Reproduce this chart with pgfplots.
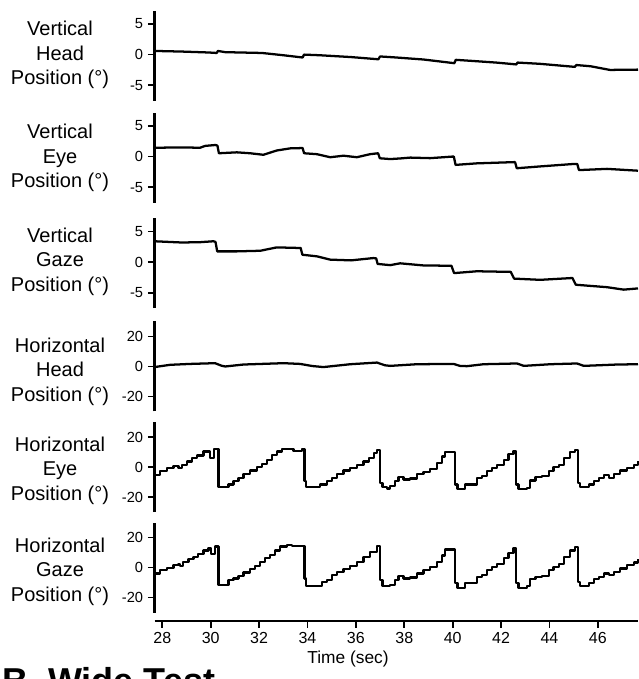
\documentclass[border=0pt]{standalone}
\usepackage{pgfplots}
\pgfplotsset{compat=1.18}
\usepackage{fontspec}
\setmainfont{Liberation Sans}

% one panel: only the left axis line, no x axis
\pgfplotsset{
  panel/.style={
    scale only axis, width=362.6pt, height=67.5pt,
    xmin=27.68, xmax=47.66,
    axis x line=none, axis y line=left,
    axis line style={-, line width=1.8pt},
    xtick=\empty,
    tick align=outside, major tick length=5pt,
    tick style={line width=1.3pt, black},
    yticklabel style={font=\fontsize{11}{13}\selectfont},
    clip=false,
  },
  vpanel/.style={panel, ymin=-7.5, ymax=7.2, ytick={-5,0,5}, yticklabels={-5,0,5}},
  hpanel/.style={panel, ymin=-30, ymax=30, ytick={-20,0,20}, yticklabels={-20,0,20}},
  trace/.style={black, line width=1.7pt, line join=round},
}
\newcommand{\lbl}{\fontsize{15}{18.4}\selectfont}

\begin{document}
\begin{tikzpicture}
\useasboundingbox (0,0) rectangle (479.25pt,-509.25pt);

% Vertical Head
\begin{axis}[vpanel, at={(115.9pt,-7.9pt)}, anchor=north west]
\addplot[trace] coordinates {
(27.68,0.6) (28.8,0.5) (29.9,0.35) (30.25,0.27) (30.3,0.6) (30.6,0.4) (32.12,0.27)
(33.0,-0.1) (33.8,-0.47) (33.86,0.0) (34.5,-0.1) (35.8,-0.4) (36.93,-0.76) (37.0,-0.3)
(37.6,-0.45) (38.8,-0.8) (40.07,-1.4) (40.13,-0.85) (40.7,-1.0) (41.8,-1.3) (42.63,-1.6)
(42.68,-1.3) (43.6,-1.5) (45.05,-2.0) (45.11,-1.7) (45.7,-1.9) (46.5,-2.5) (47.66,-2.45)
};
\end{axis}

% Vertical Eye
\begin{axis}[vpanel, at={(115.9pt,-84.4pt)}, anchor=north west]
\addplot[trace] coordinates {
(27.68,1.45) (28.8,1.5) (29.56,1.45) (29.77,1.75) (30.2,1.9) (30.28,1.8) (30.34,0.55)
(31.08,0.7) (31.63,0.55) (32.18,0.3) (32.73,1.0) (33.29,1.35) (33.80,1.4) (33.86,0.55)
(34.39,0.4) (34.94,-0.1) (35.49,0.15) (36.04,-0.1) (36.59,0.4) (36.92,0.55) (36.99,-0.27)
(37.42,-0.4) (37.83,-0.3) (38.25,-0.16) (39.07,-0.25) (39.97,0.0) (40.05,0.0) (40.12,-1.35)
(41.0,-1.1) (42.52,-0.9) (42.58,-0.9) (42.65,-1.9) (43.62,-1.6) (45.0,-1.2) (45.15,-1.2)
(45.22,-2.2) (46.38,-2.0) (47.66,-2.3)
};
\end{axis}

% Vertical Gaze
\begin{axis}[vpanel, at={(115.9pt,-163.5pt)}, anchor=north west]
\addplot[trace] coordinates {
(27.68,3.4) (28.8,3.2) (29.56,3.25) (30.11,3.4) (30.2,3.3) (30.27,1.75) (31.08,1.75)
(32.05,1.85) (32.73,2.4) (33.72,2.3) (33.79,1.2) (34.39,0.94) (34.94,0.4) (35.8,0.28)
(36.73,0.66) (36.84,0.6) (36.9,-0.3) (37.42,-0.5) (37.83,-0.2) (38.8,-0.55) (39.95,-0.6)
(40.06,-1.8) (41.0,-1.5) (42.40,-1.6) (42.54,-2.7) (43.62,-2.9) (44.95,-2.6) (45.09,-3.7)
(46.38,-4.1) (47.07,-4.5) (47.66,-4.3)
};
\end{axis}

% Horizontal Head
\begin{axis}[hpanel, at={(115.9pt,-241.1pt)}, anchor=north west]
\addplot[trace] coordinates {
(27.68,-0.4) (28.32,1.1) (29.15,1.7) (30.18,2.2) (30.45,0.5) (30.60,0) (31.36,1.3)
(33.01,2.2) (33.70,1.7) (34.2,0.3) (34.66,-0.4) (35.77,1.5) (36.87,2.6) (37.2,0.8)
(37.42,0.4) (38.52,1.5) (40.04,1.7) (40.3,0.4) (40.59,0.2) (41.28,1.5) (42.66,2.0)
(42.94,0.4) (44.04,1.5) (45.14,2.0) (45.42,0.4) (46.80,1.3) (47.66,1.5)
};
\end{axis}

% Horizontal Eye
\begin{axis}[hpanel, at={(115.9pt,-316.5pt)}, anchor=north west]
\addplot[trace, const plot] coordinates {
(27.68,-5.1) (27.91,-2.9) (28.19,-0.7) (28.46,0.9) (28.67,-0.7) (28.81,1.5) (29.01,3.7)
(29.22,5.9) (29.43,7.7) (29.70,10.3) (29.98,5.9) (30.14,11.8) (30.32,-13.4) (30.74,-11.6)
(30.94,-9.4) (31.15,-7.3) (31.36,-4.6) (31.63,-2.4) (31.91,-0.2) (32.11,1.9) (32.32,4.8)
(32.53,8.1) (32.73,10.3) (32.94,12.0) (33.42,10.7) (33.77,12.0) (33.88,-9.4) (33.95,-13.4)
(34.53,-11.6) (34.80,-9.4) (35.01,-7.3) (35.22,-4.6) (35.49,-2.4) (35.77,-0.7) (36.04,1.5)
(36.32,3.7) (36.53,6.0) (36.74,9.3) (36.87,11.5) (37.01,-10.5) (37.10,-13.4) (37.28,-14.3)
(37.42,-12.7) (37.63,-9.4) (37.76,-6.8) (37.97,-8.4) (38.25,-7.7) (38.52,-4.6) (38.80,-3.3)
(39.07,-1.1) (39.35,2.6) (39.56,7.0) (39.69,9.9) (40.11,-11.6) (40.20,-14.9) (40.52,-11.6)
(41.00,-7.3) (41.21,-6.2) (41.42,-2.9) (41.62,-0.7) (41.83,1.5) (42.11,4.8) (42.31,8.5)
(42.52,10.7) (42.63,-11.6) (42.72,-14.9) (43.07,-13.8) (43.21,-9.0) (43.42,-6.8) (43.69,-6.2)
(43.97,-2.9) (44.17,-0.2) (44.38,1.5) (44.59,5.9) (44.86,9.9) (45.07,11.4) (45.17,-10.5)
(45.27,-13.4) (45.62,-11.6) (45.83,-9.4) (46.04,-7.3) (46.24,-5.1) (46.45,-7.3) (46.66,-4.6)
(46.93,-2.4) (47.21,-0.7) (47.48,1.5) (47.66,3.7)
};
\end{axis}

% Horizontal Gaze
\begin{axis}[hpanel, at={(115.9pt,-391.9pt)}, anchor=north west]
\addplot[trace, const plot] coordinates {
(27.68,-4.0) (27.91,-1.8) (28.19,-0.2) (28.46,1.5) (28.67,2.6) (28.74,1.1) (28.87,3.7)
(29.08,5.5) (29.29,7.0) (29.49,9.2) (29.70,11.4) (29.91,12.9) (30.00,9.2) (30.18,14.0)
(30.32,-11.6) (30.74,-8.4) (30.94,-7.3) (31.15,-5.5) (31.36,-3.3) (31.63,-1.1) (31.84,1.1)
(32.05,3.7) (32.25,6.3) (32.46,8.5) (32.66,11.4) (32.87,14.0) (33.15,15.1) (33.35,14.2)
(33.88,-7.3) (33.95,-12.1) (34.59,-9.4) (34.80,-8.4) (35.01,-5.1) (35.22,-2.9) (35.49,-1.1)
(35.77,1.1) (36.04,3.7) (36.32,7.0) (36.59,10.3) (36.87,14.2) (37.01,-8.4) (37.10,-12.1)
(37.42,-11.6) (37.63,-8.4) (37.76,-5.5) (37.97,-7.3) (38.25,-6.6) (38.52,-4.0) (38.80,-1.8)
(39.07,0.4) (39.35,3.7) (39.56,8.1) (39.69,12.0) (40.11,-10.5) (40.20,-13.4) (40.52,-10.5)
(41.00,-6.2) (41.21,-5.1) (41.42,-1.8) (41.62,0.4) (41.83,2.6) (42.11,6.3) (42.31,9.9)
(42.52,12.9) (42.63,-10.5) (42.72,-13.4) (43.07,-12.1) (43.21,-7.7) (43.42,-6.2) (43.69,-5.5)
(43.97,-1.8) (44.17,0.4) (44.38,2.6) (44.59,7.0) (44.86,11.4) (45.07,13.6) (45.17,-9.4)
(45.27,-12.1) (45.62,-10.5) (45.83,-7.7) (46.04,-6.2) (46.24,-4.0) (46.45,-5.1) (46.66,-2.9)
(46.93,-0.7) (47.21,1.5) (47.48,3.3) (47.66,5.9)
};
\end{axis}

% time axis, drawn apart below the panels
\begin{axis}[
  scale only axis, width=362.6pt, height=5pt,
  at={(115.9pt,-465.8pt)}, anchor=south west,
  xmin=27.68, xmax=47.66, ymin=0, ymax=1,
  axis x line=bottom, axis y line=none,
  axis line style={-, line width=1.8pt},
  xtick={28,30,...,46},
  tick align=outside, major tick length=5pt,
  tick style={line width=1.3pt, black},
  /pgf/number format/assume math mode=true,
  xticklabel style={font=\fontsize{12}{14}\selectfont},
]
\addplot[draw=none] coordinates {(30,0.5)};
\end{axis}

% panel labels
\node[align=center, font=\lbl] at (45pt,-41.25pt) {Vertical\\Head\\Position (°)};
\node[align=center, font=\lbl] at (45pt,-118.7pt) {Vertical\\Eye\\Position (°)};
\node[align=center, font=\lbl] at (45pt,-196.3pt) {Vertical\\Gaze\\Position (°)};
\node[align=center, font=\lbl] at (45pt,-278.8pt) {Horizontal\\Head\\Position (°)};
\node[align=center, font=\lbl] at (45pt,-353.0pt) {Horizontal\\Eye\\Position (°)};
\node[align=center, font=\lbl] at (45pt,-428.8pt) {Horizontal\\Gaze\\Position (°)};

\node[font=\fontsize{13}{15}\selectfont] at (261pt,-494.5pt) {Time (sec)};
\node[font=\fontsize{27}{30}\bfseries, anchor=north west, inner sep=0pt] at (1.5pt,-500pt) {B. Wide Test};
\end{tikzpicture}
\end{document}
